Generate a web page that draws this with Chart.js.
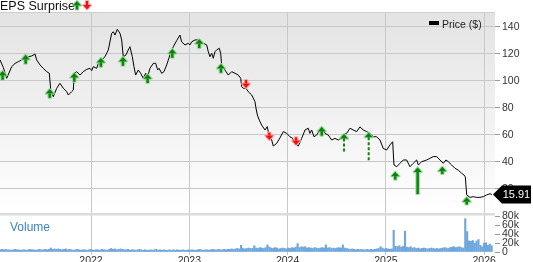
<!DOCTYPE html>
<html><head><meta charset="utf-8">
<script src="https://cdn.jsdelivr.net/npm/chart.js@4.4.0/dist/chart.umd.min.js"></script>
<style>html,body{margin:0;padding:0;background:#fff;overflow:hidden}#wrap{position:relative;width:533px;height:262px}</style>
</head><body><div id="wrap"><canvas id="c" width="533" height="262"></canvas></div>
<script>
// ---------- DATA ----------
const priceDates = [2021.074,2021.108,2021.142,2021.193,2021.227,2021.260,2021.295,2021.328,2021.362,2021.396,2021.430,2021.447,2021.481,2021.514,2021.549,2021.576,2021.590,2021.616,2021.651,2021.684,2021.718,2021.753,2021.769,2021.803,2021.820,2021.830,2021.854,2021.888,2021.921,2021.956,2021.990,2022.007,2022.023,2022.058,2022.074,2022.109,2022.142,2022.176,2022.210,2022.227,2022.244,2022.267,2022.295,2022.312,2022.328,2022.356,2022.379,2022.396,2022.420,2022.437,2022.454,2022.481,2022.505,2022.532,2022.556,2022.572,2022.600,2022.634,2022.658,2022.678,2022.692,2022.719,2022.742,2022.770,2022.803,2022.837,2022.872,2022.905,2022.922,2022.956,2022.990,2023.007,2023.024,2023.058,2023.109,2023.142,2023.177,2023.193,2023.210,2023.228,2023.244,2023.261,2023.278,2023.305,2023.319,2023.329,2023.363,2023.397,2023.431,2023.465,2023.498,2023.523,2023.533,2023.549,2023.577,2023.600,2023.635,2023.668,2023.678,2023.692,2023.712,2023.736,2023.770,2023.793,2023.810,2023.838,2023.854,2023.889,2023.922,2023.956,2023.991,2024.024,2024.052,2024.075,2024.109,2024.143,2024.177,2024.210,2024.227,2024.245,2024.268,2024.296,2024.329,2024.347,2024.380,2024.414,2024.448,2024.482,2024.516,2024.543,2024.566,2024.601,2024.635,2024.668,2024.703,2024.736,2024.770,2024.804,2024.838,2024.872,2024.906,2024.940,2024.973,2025.008,2025.041,2025.069,2025.082,2025.110,2025.143,2025.177,2025.211,2025.245,2025.278,2025.313,2025.330,2025.364,2025.415,2025.448,2025.482,2025.517,2025.550,2025.584,2025.611,2025.635,2025.669,2025.703,2025.736,2025.771,2025.794,2025.808,2025.822,2025.855,2025.889,2025.924,2025.957,2025.991,2026.025,2026.059,2026.079];
const priceValues = [115.6,110,102,110.6,113,114.3,115.6,119.3,118,118.5,120,115.6,111.9,109.4,106.9,105.7,93.3,88.4,94.6,98.3,94.6,92.1,89.6,92.1,93.3,105.7,106.9,104.4,106.9,108.6,109.4,107.7,110.6,109.4,113.1,115.6,118,123,135.3,136.5,134,138.3,135.3,130.4,118,119.3,123,125.4,118,110.6,104.4,108.1,105.7,102,105.7,102,109.4,113.1,113.1,108.1,109.4,105.7,106.9,111.9,119.3,125.4,130,134,129,126.7,127.9,126.7,129,130.4,130.4,128,126.7,121.7,118,120.5,116.8,121.7,123,124.2,120.5,112,108,104.4,106.9,105.7,104.4,102,95.8,94.6,94.6,92,89.6,84.7,80,74.8,71,67.4,63.7,66.2,60,56.3,51.8,53.8,57.8,62.5,61.2,58.7,57.5,53.8,51.8,57.5,63.7,65,61.2,63.7,58.7,60,63.7,66,61.2,60,56.3,57.5,56.3,57.5,60,61.3,65,63.7,62.5,66,63.7,62.5,61.3,58.7,58.7,56.3,50,48.9,52.6,55,37.8,36.5,39,41.5,41.5,36.5,39,41.5,37.8,40.2,41.5,42.7,44,44,41.5,39,41.5,40.2,37.8,35.3,34,31.6,30.4,29,15.6,13.8,14.3,13.8,13.8,14.3,15.6,16.5,15.91];
const lastPriceLabel = "15.91";

const volumeStartYear = 2021.074;
const volumeWeeksPerYear = 52.18;
const volumeValues = [5,6,5,6,5,5,4,5,6,5,5,4,5,5,4,5,6,5,5,4,5,6,5,5,6,5,6,
 9,
 6,7,6,7,6,5,6,7,5,6,5,4,5,6,5,4,5,5,4,5,6,5,4,5,5,4,6,5,5,4,6,
 8,
 6,7,5,6,7,6,5,5,6,4,5,5,4,5,6,5,4,5,4,4,5,4,5,6,4,5,4,5,4,4,5,4,5,4,5,
 4,4,5,4,4,5,4,5,4,4,5,6,5,4,5,5,4,5,6,5,5,6,5,5,6,5,6,6,7,6,
 7,8,7,15,8,7,8,9,8,8,14,9,8,10,9,8,10,16,
 11,9,8,10,9,7,8,9,8,7,9,8,10,9,11,19,
 10,12,11,12,9,10,9,8,10,9,8,9,10,9,16,
 9,10,8,9,8,9,10,9,16,
 9,8,7,6,7,6,5,6,5,6,5,5,6,5,6,5,6,7,8,12,9,7,
 8,7,6,7,49,13,12,14,11,13,47,11,10,12,9,10,
 8,9,7,8,9,8,7,8,9,8,7,8,7,8,9,10,9,8,10,11,12,10,
 11,12,10,9,75,46,25,24,26,20,25,28,15,12,20,21,15,18,14];

const surpriseDates = [2021.10,2021.335,2021.58,2021.83,2022.10,2022.325,2022.576,2022.827,2023.101,2023.322,2023.577,2023.814,2024.086,2024.347,2024.574,2024.825,2025.095,2025.323,2025.574,2025.822];
const surpriseDirs = ['up','up','up','up','up','up','up','up','up','up','down','down','down','up','up','up','up','up','up','up'];
const surpriseTips = [107.4,119.3,94,106,117,117.8,105,123.7,130.9,112.6,94.8,56.3,52.6,66,60.7,61.7,32.8,36,36.5,13.9];
const surpriseTails = [100.9,112.8,87.5,99.5,110.5,111.3,98.5,117.2,124.4,106.1,100.7,61.7,58.3,59.5,47.6,41,27,16.3,31.1,8.5];
const surpriseDashed = [false,false,false,false,false,false,false,false,false,false,false,false,false,false,true,true,false,false,false,false];

const yearTicks = [2022,2023,2024,2025,2026];
const priceTicks = [20,40,60,80,100,120,140];
const volumeTicks = [0,20,40,60,80];

// ---------- BUILD ----------
const FONT = "'Liberation Sans', Arial, Helvetica, sans-serif";
const linePts = priceDates.map((d,i)=>({x:d,y:priceValues[i]}));
const volPts = volumeValues.map((v,i)=>({x:volumeStartYear + i/volumeWeeksPerYear, y:v}));

function drawArrow(ctx, x, tipY, tailY, color, halo, dashed){
  const dir = tailY > tipY ? 1 : -1;
  const hh = 4.5, hw = 4;
  const baseY = tipY + dir*hh;
  ctx.save();
  ctx.strokeStyle = halo; ctx.lineWidth = 2.2; ctx.lineJoin='round';
  ctx.beginPath(); ctx.moveTo(x,tipY); ctx.lineTo(x-hw,baseY); ctx.lineTo(x+hw,baseY); ctx.closePath(); ctx.stroke();
  if(!dashed){ ctx.strokeRect(x-1.2, Math.min(baseY,tailY), 2.4, Math.abs(tailY-baseY)); }
  ctx.fillStyle = color;
  ctx.beginPath(); ctx.moveTo(x,tipY); ctx.lineTo(x-hw,baseY); ctx.lineTo(x+hw,baseY); ctx.closePath(); ctx.fill();
  if(dashed){
    ctx.strokeStyle = color; ctx.lineWidth = 2; ctx.setLineDash([3,2]);
    ctx.beginPath(); ctx.moveTo(x, baseY); ctx.lineTo(x, tailY); ctx.stroke();
  } else {
    ctx.fillRect(x-1.2, Math.min(baseY,tailY), 2.4, Math.abs(tailY-baseY));
  }
  ctx.restore();
}

const decor = {
  id:'decor',
  beforeDraw(chart){
    const {ctx, chartArea:a, scales} = chart;
    const py = scales.y;
    ctx.save();
    ctx.fillStyle='#fff'; ctx.fillRect(0,0,chart.width,chart.height);
    const g = ctx.createLinearGradient(0,a.top,0,py.bottom);
    g.addColorStop(0,'#e3e3e3'); g.addColorStop(1,'#ffffff');
    ctx.fillStyle=g; ctx.fillRect(a.left,a.top,a.right-a.left,py.bottom-a.top);
    ctx.restore();
  },
  beforeDatasetsDraw(chart){
    const {ctx, chartArea:a, scales} = chart;
    const py = scales.y;
    ctx.save();
    ctx.fillStyle='#dcdcdc'; ctx.fillRect(a.left, py.bottom-1, a.right-a.left, 2.5);
    ctx.fillStyle='#cfcfcf'; ctx.fillRect(a.left, a.top, a.right-a.left, 1);
    ctx.restore();
  },
  afterDatasetsDraw(chart){
    const {ctx, scales} = chart;
    const xs = scales.x, py = scales.y;
    for(let i=0;i<surpriseDates.length;i++){
      const x = xs.getPixelForValue(surpriseDates[i]);
      const t = py.getPixelForValue(surpriseTips[i]);
      const l = py.getPixelForValue(surpriseTails[i]);
      if(surpriseDirs[i]==='up') drawArrow(ctx,x,t,l,'#0c800c','rgba(150,215,150,0.9)',surpriseDashed[i]);
      else drawArrow(ctx,x,t,l,'#f01010','rgba(255,170,170,0.9)',false);
    }
    const n = priceDates.length-1;
    const lx = xs.getPixelForValue(priceDates[n]);
    const ly = py.getPixelForValue(priceValues[n]);
    ctx.save();
    ctx.fillStyle='#000';
    ctx.beginPath(); ctx.moveTo(lx+1,ly); ctx.lineTo(lx+10,ly-9); ctx.lineTo(531,ly-9); ctx.lineTo(531,ly+9); ctx.lineTo(lx+10,ly+9); ctx.closePath(); ctx.fill();
    ctx.fillStyle='#fff'; ctx.font='11px '+FONT; ctx.textAlign='center'; ctx.textBaseline='middle';
    ctx.fillText(lastPriceLabel, (lx+10+531)/2, ly+0.5);
    ctx.fillStyle='#3b84c4'; ctx.font='12px '+FONT; ctx.textAlign='left'; ctx.textBaseline='alphabetic';
    ctx.fillText('Volume', 10, 231);
    ctx.fillStyle='#111'; ctx.font='12.5px '+FONT;
    ctx.fillText('EPS Surprise', 0, 10);
    drawArrow(ctx, 77, 1, 9.5, '#0c800c','rgba(150,215,150,0.9)',false);
    drawArrow(ctx, 87, 9.5, 1, '#f01010','rgba(255,170,170,0.9)',false);
    ctx.fillStyle='#000'; ctx.fillRect(429,21,10,4);
    ctx.fillStyle='#222'; ctx.font='10.5px '+FONT;
    ctx.fillText('Price ($)', 442, 27.5);
    ctx.restore();
  }
};

new Chart(document.getElementById('c'), {
  type:'bar',
  data:{ datasets:[
    { type:'line', label:'Price ($)', data:linePts, xAxisID:'x', yAxisID:'y', borderColor:'#000', borderWidth:1, pointRadius:0, tension:0, order:0 },
    { type:'bar', label:'Volume', data:volPts, xAxisID:'x', yAxisID:'yv', backgroundColor:'#6fa7dc', borderWidth:0, barThickness:1.5, grouped:false, order:1 }
  ]},
  options:{
    responsive:false, animation:false, devicePixelRatio:1,
    layout:{padding:{top:12,left:0,right:0,bottom:0}},
    plugins:{legend:{display:false}, tooltip:{enabled:false}},
    scales:{
      x:{ type:'linear', position:'bottom', min:2021.074, max:2026.11, offset:false,
          afterBuildTicks:s=>{s.ticks=yearTicks.map(v=>({value:v}));},
          afterFit:s=>{s.height=10;},
          ticks:{callback:v=>String(v), color:'#333', font:{size:10.5,family:FONT}, padding:0, maxRotation:0, autoSkip:false},
          grid:{color:'#c8c8c8', lineWidth:1, tickLength:3, offset:false}, border:{display:false} },
      y:{ type:'linear', position:'right', stack:'r', stackWeight:202, min:1.48, max:151.1,
          afterBuildTicks:s=>{s.ticks=priceTicks.map(v=>({value:v}));},
          afterFit:s=>{s.width=38;},
          ticks:{color:'#333', font:{size:10.5,family:FONT}, padding:2, autoSkip:false},
          grid:{color:'#c8c8c8', lineWidth:1, tickLength:5, tickColor:'#999'}, border:{display:false} },
      yv:{ type:'linear', position:'right', stack:'r', stackWeight:38, min:0, max:85.6,
          afterBuildTicks:s=>{s.ticks=volumeTicks.map(v=>({value:v}));},
          afterFit:s=>{s.width=38;},
          ticks:{color:'#333', font:{size:10.5,family:FONT}, padding:2, autoSkip:false, callback:v=>v===0?'0':v+'k'},
          grid:{drawOnChartArea:false, tickLength:5, tickColor:'#999'}, border:{display:false} }
    }
  },
  plugins:[decor]
});
</script></body></html>
